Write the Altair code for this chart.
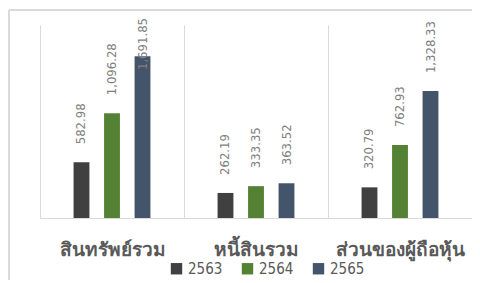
import altair as alt
import pandas as pd

categories = ["สินทรัพย์รวม", "หนี้สินรวม", "ส่วนของผู้ถือหุ้น"]
years = ["2563", "2564", "2565"]
values_2563 = [582.98, 262.19, 320.79]
values_2564 = [1096.28, 333.35, 762.93]
values_2565 = [1691.85, 363.52, 1328.33]
colors = ["#404040", "#548235", "#44546A"]

rows = []
for yr, vals in zip(years, [values_2563, values_2564, values_2565]):
    for c, v in zip(categories, vals):
        rows.append({"category": c, "year": yr, "value": v})
df = pd.DataFrame(rows)

x_enc = alt.X(
    "category:N",
    sort=categories,
    title=None,
    scale=alt.Scale(paddingInner=0, paddingOuter=0),
    axis=alt.Axis(
        tickBand="extent",
        grid=True,
        gridColor="#d9d9d9",
        domainColor="#d9d9d9",
        ticks=False,
        labelAngle=0,
        labelFont="Noto Sans",
        labelFontSize=19,
        labelFontWeight="bold",
        labelColor="#595959",
        labelPadding=22,
    ),
)
# slot domain with an empty slot on each side for spacing inside a category
offset_domain = ["_l"] + years + ["_r"]
xoff = alt.XOffset(
    "year:N",
    scale=alt.Scale(domain=offset_domain, paddingInner=0.48, paddingOuter=0.1),
)
y_scale = alt.Scale(domain=[0, 2020], nice=False)

base = alt.Chart(df)

bars = base.mark_bar().encode(
    x=x_enc,
    xOffset=xoff,
    y=alt.Y("value:Q", scale=y_scale, axis=None),
    color=alt.Color(
        "year:N",
        sort=years,
        scale=alt.Scale(domain=years, range=colors),
        legend=alt.Legend(
            title=None,
            orient="none",
            direction="horizontal",
            legendX=129,
            legendY=236,
            symbolType="square",
            symbolSize=130,
            symbolStrokeWidth=0,
            labelFontSize=15,
            labelFont="DejaVu Sans Condensed",
            labelColor="#595959",
            labelOffset=4,
            columnPadding=17,
        ),
    ),
)

labels = base.transform_calculate(
    labelpos="min(datum.value, 1360)"
).mark_text(
    angle=270,
    align="left",
    baseline="middle",
    dx=18,
    fontSize=13,
    font="DejaVu Sans Condensed",
    color="#7f7f7f",
).encode(
    x=alt.X("category:N", sort=categories),
    xOffset=xoff,
    y=alt.Y("labelpos:Q", scale=y_scale),
    text=alt.Text("value:Q", format=",.2f"),
)

frame_top = alt.Chart(df).mark_rule(color="#d9d9d9", strokeWidth=1).encode(
    x=alt.value(-31), x2=alt.value(440), y=alt.value(-15), y2=alt.value(-15)
)
frame_left = alt.Chart(df).mark_rule(color="#d9d9d9", strokeWidth=1).encode(
    x=alt.value(-31), x2=alt.value(-31), y=alt.value(-15), y2=alt.value(270)
)

chart = alt.layer(frame_top, frame_left, bars, labels).properties(
    width=432,
    height=193,
    autosize=alt.AutoSizeParams(type="none"),
    padding={"left": 32, "top": 17, "right": 0, "bottom": 62},
    background="white",
).configure_view(stroke=None)

chart.save("out.html", embed_options={"renderer": "svg", "actions": False})
